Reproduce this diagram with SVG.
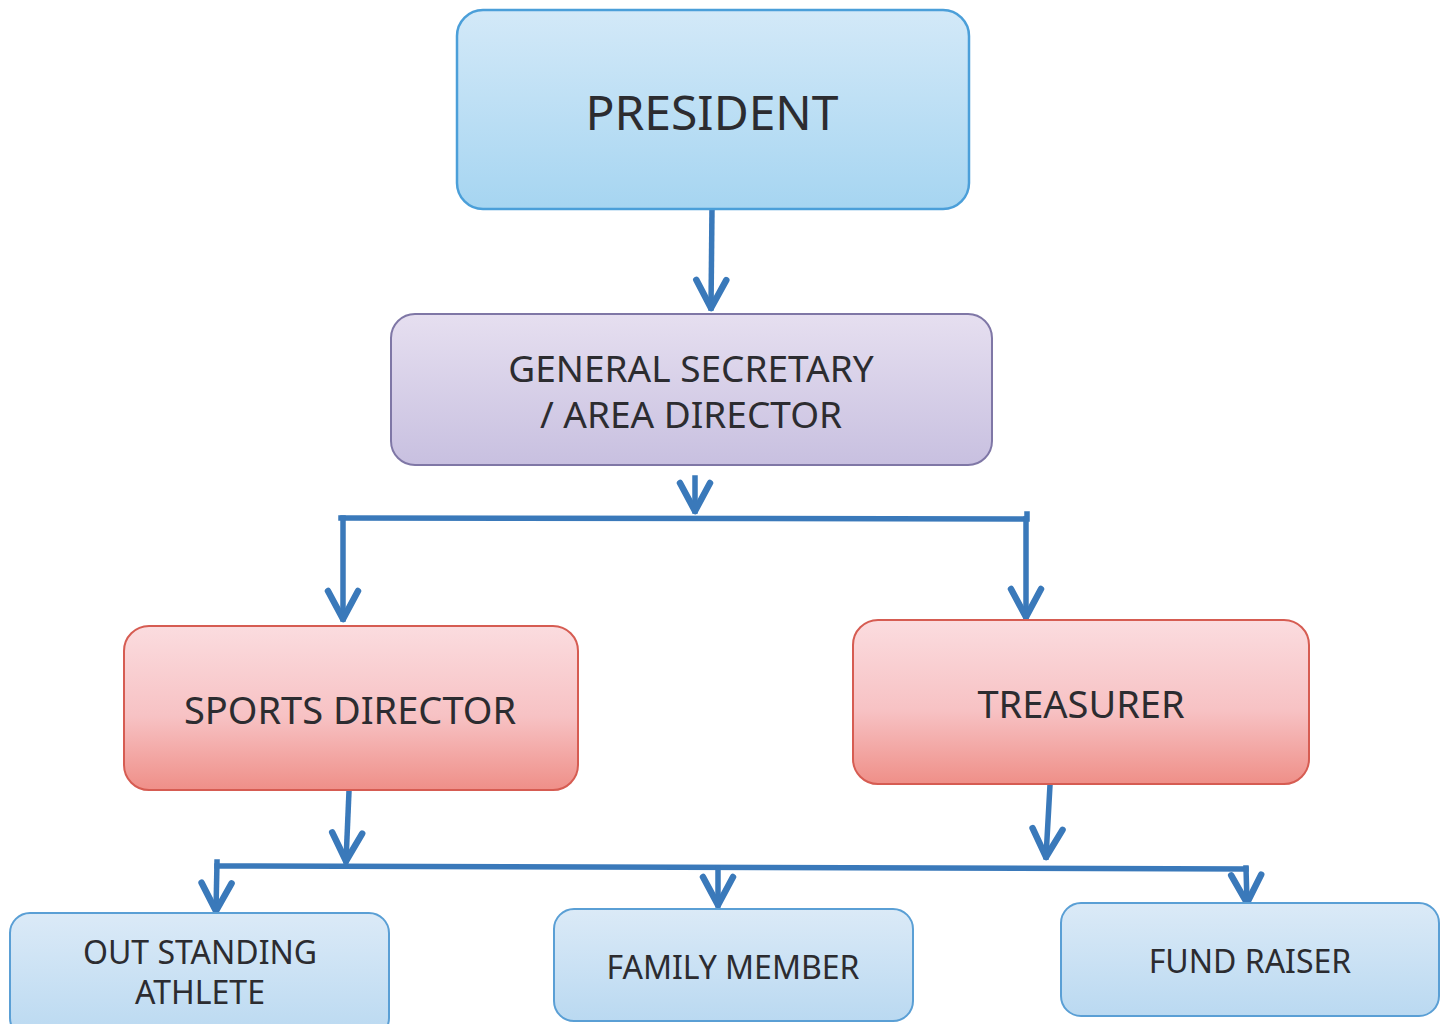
<svg xmlns="http://www.w3.org/2000/svg" width="1450" height="1024" viewBox="0 0 1450 1024">
<defs>
<linearGradient id="gBlue" x1="0" y1="0" x2="0" y2="1"><stop offset="0" stop-color="#d3e9f8"/><stop offset="1" stop-color="#a6d5f1"/></linearGradient>
<linearGradient id="gBlueL" x1="0" y1="0" x2="0" y2="1"><stop offset="0" stop-color="#dbeaf7"/><stop offset="1" stop-color="#bad9f1"/></linearGradient>
<linearGradient id="gLav" x1="0" y1="0" x2="0" y2="1"><stop offset="0" stop-color="#e6dff0"/><stop offset="1" stop-color="#c8c0e0"/></linearGradient>
<linearGradient id="gPink" x1="0" y1="0" x2="0" y2="1"><stop offset="0" stop-color="#fbdcdf"/><stop offset="0.55" stop-color="#f7c2c4"/><stop offset="1" stop-color="#ef8f88"/></linearGradient>
<marker id="chev" viewBox="-36 -20 40 40" refX="0" refY="0" markerWidth="40" markerHeight="40" orient="auto" markerUnits="userSpaceOnUse">
<path d="M-28,-15 L0,0 L-28,15" fill="none" stroke="#3a79ba" stroke-width="6.5" stroke-linecap="round" stroke-linejoin="round"/>
</marker>
</defs>
<style>
.lbl{font-family:"Noto Sans","Open Sans","DejaVu Sans",sans-serif;fill:#2c2c30;text-anchor:middle}
.con{fill:none;stroke:#3a79ba;stroke-width:5.5;stroke-linecap:square}
.arr{marker-end:url(#chev)}
.blue{fill:url(#gBlue);stroke:#4b9fd9;stroke-width:2.5}
.blueL{fill:url(#gBlueL);stroke:#5a9fd5;stroke-width:2}
.lav{fill:url(#gLav);stroke:#7f77a6;stroke-width:2}
.pink{fill:url(#gPink);stroke:#d65c52;stroke-width:2}
</style>
<rect width="1450" height="1024" fill="#ffffff"/>
<g id="connectors">
<path class="con arr" d="M712,209 L711,308"/>
<path class="con arr" d="M695,478 L695,511"/>
<path class="con" d="M341,518 L1027,519 M1027,514 L1027,519"/>
<path class="con arr" d="M343,518 L343,619"/>
<path class="con arr" d="M1026,519 L1026,617"/>
<path class="con arr" d="M349,791 L346,861"/>
<path class="con arr" d="M1050,785 L1046,857"/>
<path class="con" d="M217,866 L1246,869"/>
<path class="con arr" d="M217,862 L216,911"/>
<path class="con arr" d="M718,868 L718,905"/>
<path class="con arr" d="M1246,868 L1247,903"/>
</g>
<g id="president">
<rect class="blue" x="457" y="10" width="512" height="199" rx="26"/>
<text class="lbl" x="712" y="130" font-size="48">PRESIDENT</text>
</g>
<g id="general-secretary">
<rect class="lav" x="391" y="314" width="601" height="151" rx="24"/>
<text class="lbl" x="691" y="382" font-size="37">GENERAL SECRETARY</text>
<text class="lbl" x="691" y="428" font-size="37">/ AREA DIRECTOR</text>
</g>
<g id="sports-director">
<rect class="pink" x="124" y="626" width="454" height="164" rx="25"/>
<text class="lbl" x="350" y="724" font-size="38">SPORTS DIRECTOR</text>
</g>
<g id="treasurer">
<rect class="pink" x="853" y="620" width="456" height="164" rx="25"/>
<text class="lbl" x="1081" y="718" font-size="38">TREASURER</text>
</g>
<g id="outstanding-athlete">
<rect class="blueL" x="10" y="913" width="379" height="125" rx="20"/>
<text class="lbl" x="200" y="964" font-size="32">OUT STANDING</text>
<text class="lbl" x="200" y="1004" font-size="32">ATHLETE</text>
</g>
<g id="family-member">
<rect class="blueL" x="554" y="909" width="359" height="112" rx="20"/>
<text class="lbl" x="733" y="979" font-size="32">FAMILY MEMBER</text>
</g>
<g id="fund-raiser">
<rect class="blueL" x="1061" y="903" width="378" height="113" rx="20"/>
<text class="lbl" x="1250" y="973" font-size="32">FUND RAISER</text>
</g>
</svg>
